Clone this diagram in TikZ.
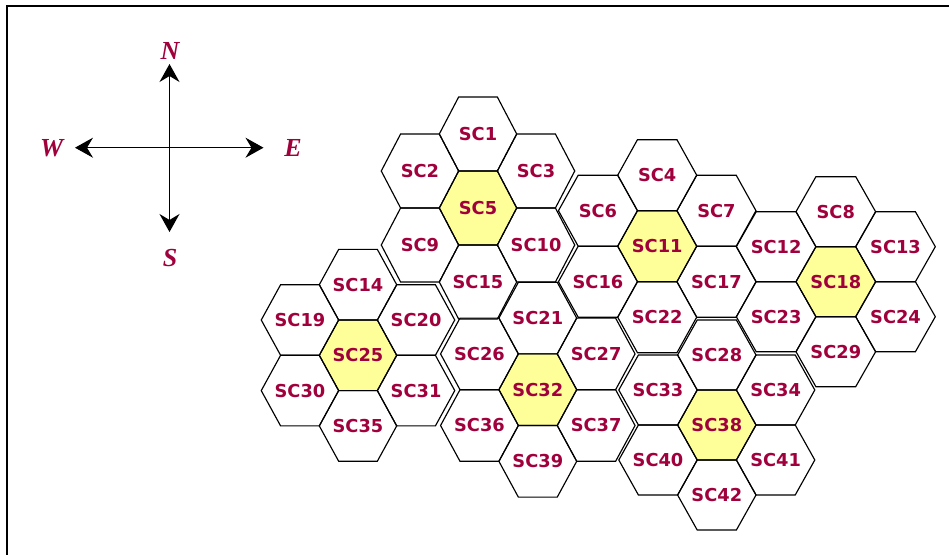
\documentclass[tikz,border=0pt]{standalone}
\usepackage{fontspec}
\newfontfamily\lblfont{DejaVu Sans}
\newfontfamily\dirfont{Liberation Serif}
\usetikzlibrary{arrows.meta}
\definecolor{lblred}{RGB}{160,0,60}
\definecolor{hubyellow}{RGB}{255,255,153}

\newcommand\hexat[4]{%
  \draw[hexline,#4] ({#1},{#2}) ++(-\R,0) -- ++(\R/2,-\hh) -- ++(\R,0) -- ++(\R/2,\hh) -- ++(-\R/2,\hh) -- ++(-\R,0) -- cycle;
  \node[lbl] (#3) at ({#1},{#2}) {#3};%
}
\newcommand\cluster[6]{%
  \def\R{#3}\def\hh{#4}%
  \hexat{#1}{#2}{SC#5}{hubcell}%
  \foreach \lab [count=\k from 0] in {#6}{%
    \pgfmathsetmacro\di{{0,-1.5,1.5,-1.5,1.5,0}[\k]}%
    \pgfmathsetmacro\dj{{-2,-1,-1,1,1,2}[\k]}%
    \hexat{#1+(\di)*\R}{#2+(\dj)*\hh}{SC\lab}{plaincell}%
  }%
}

\begin{document}
\begin{tikzpicture}[x=1pt,y=-1pt,
  hexline/.style={draw=black, line width=1.15pt, line join=miter},
  plaincell/.style={},
  hubcell/.style={fill=hubyellow},
  lbl/.style={font={\lblfont\fontsize{17.8}{20}\selectfont\bfseries}, text=lblred, inner sep=0pt},
  dir/.style={font={\dirfont\fontsize{26}{30}\selectfont\bfseries\itshape}, text=lblred, inner sep=0pt},
  compass/.style={line width=1.1pt, -{Stealth[length=18pt,width=20pt,inset=6pt]}}]
\useasboundingbox (0,0) rectangle (949,554);
\fill[white] (0,0) rectangle (949,554);
\draw[line width=2pt] (6.8,6) rectangle (1000,700);

% compass
\coordinate (O) at (169.5,147.7);
\coordinate (tipN) at (169.5,64);
\coordinate (tipS) at (169.5,232);
\coordinate (tipW) at (75,147.7);
\coordinate (tipE) at (263.5,147.7);
\draw[compass] (O) -- (tipN);
\draw[compass] (O) -- (tipS);
\draw[compass] (O) -- (tipW);
\draw[compass] (O) -- (tipE);
\node[dir] (N) at (170,51) {N};
\node[dir] (W) at (51.7,148) {W};
\node[dir] (E) at (293,148) {E};
\node[dir] (S) at (170,258) {S};

% clusters
\cluster{478}{208}{38.7}{37}{5}{1,2,3,9,10,15}
\cluster{657.2}{246.2}{39.5}{35.5}{11}{4,6,7,16,17,22}
\cluster{835.8}{281.7}{39.8}{35}{18}{8,12,13,23,24,29}
\cluster{358}{355.3}{38.7}{35.3}{25}{14,19,20,30,31,35}
\cluster{537.8}{389.7}{38.9}{35.8}{32}{21,26,27,36,37,39}
\cluster{716.8}{425}{39.2}{35}{38}{28,33,34,40,41,42}
\end{tikzpicture}
\end{document}
